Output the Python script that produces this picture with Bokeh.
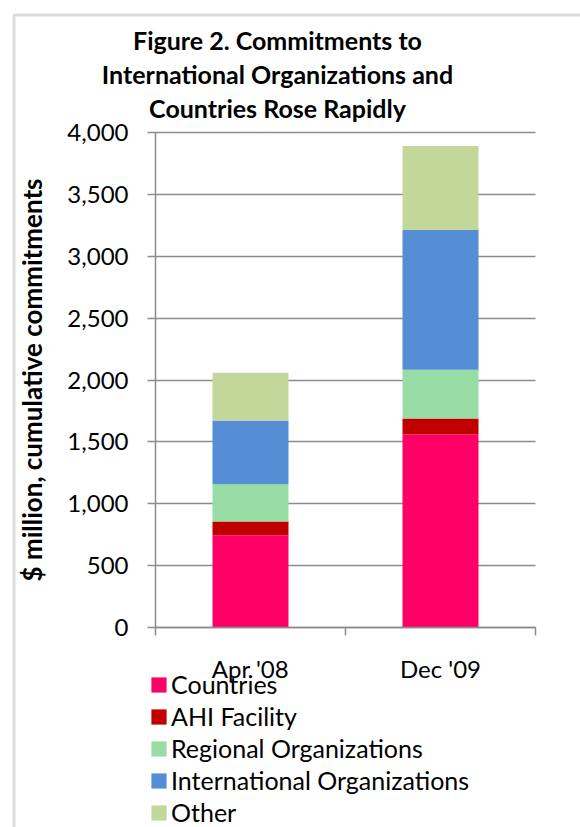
from bokeh.plotting import figure
from bokeh.models import (ColumnDataSource, FixedTicker, NumeralTickFormatter, Legend,
                          LegendItem, Label, Range1d, BoxAnnotation)
from bokeh.embed import file_html
from bokeh.resources import INLINE

# ---- data ----
categories = ["Apr '08", "Dec '09"]
series = ["Countries", "AHI Facility", "Regional Organizations", "International Organizations", "Other"]
countries = [745, 1560]
ahi_facility = [112, 128]
regional_orgs = [300, 395]
international_orgs = [515, 1130]
other = [387, 678]
y_ticks = [0, 500, 1000, 1500, 2000, 2500, 3000, 3500, 4000]

colors = ["#FF0066", "#C00000", "#99DDA6", "#558ED5", "#C4D79B"]
FONT = "Lato"
GREY = "#8c8c8c"

# ---- layout (pixels on the canvas) ----
W, H = 580, 827
AX_LEFT, AX_RIGHT, AX_TOP, AX_BOTTOM = 155, 535, 132, 627
YMAX = y_ticks[-1]
ncat = len(categories)
px_x = (AX_RIGHT - AX_LEFT) / ncat
px_y = (AX_BOTTOM - AX_TOP) / YMAX


def x_at(px):
    return (px - AX_LEFT) / px_x


def y_at(py):
    return (AX_BOTTOM - py) / px_y


xpos = [i + 0.5 for i in range(ncat)]
source = ColumnDataSource(dict(
    x=xpos,
    **{series[0]: countries, series[1]: ahi_facility, series[2]: regional_orgs,
       series[3]: international_orgs, series[4]: other}
))

p = figure(width=W, height=H, output_backend="svg", toolbar_location=None,
           x_range=Range1d(x_at(0), x_at(W)), y_range=Range1d(y_at(H), y_at(0)),
           min_border=0)
p.outline_line_color = None
p.background_fill_color = "white"
p.border_fill_color = "white"
p.xgrid.grid_line_color = None
p.ygrid.grid_line_color = None

renderers = p.vbar_stack(series, x="x", width=0.4, source=source, color=colors, line_color=None)

# y axis (its inward ticks double as the horizontal gridlines)
yax = p.yaxis[0]
yax.fixed_location = 0
yax.bounds = (0, YMAX)
yax.level = "underlay"
yax.ticker = FixedTicker(ticks=y_ticks)
yax.formatter = NumeralTickFormatter(format="0,0")
yax.axis_line_color = GREY
yax.axis_line_width = 1.5
yax.major_tick_line_color = GREY
yax.major_tick_line_width = 1.5
yax.major_tick_out = 8
yax.major_tick_in = AX_RIGHT - AX_LEFT
yax.minor_tick_line_color = None
yax.major_label_text_font = FONT
yax.major_label_text_font_size = "24px"
yax.major_label_text_color = "black"
yax.major_label_standoff = 19
yax.axis_label = "$ million, cumulative commitments"
yax.axis_label_text_font = FONT
yax.axis_label_text_font_style = "bold"
yax.axis_label_text_font_size = "26px"
yax.axis_label_text_color = "black"
yax.axis_label_standoff = 16

# x axis
xax = p.xaxis[0]
xax.fixed_location = 0
xax.bounds = (0, ncat)
xax.ticker = FixedTicker(ticks=xpos, minor_ticks=list(range(ncat + 1)))
xax.major_label_overrides = {xv: c for xv, c in zip(xpos, categories)}
xax.axis_line_color = GREY
xax.axis_line_width = 1.5
xax.major_tick_line_color = None
xax.major_tick_out = 0
xax.major_tick_in = 0
xax.minor_tick_line_color = GREY
xax.minor_tick_line_width = 1.5
xax.minor_tick_out = 8
xax.minor_tick_in = 0
xax.major_label_text_font = FONT
xax.major_label_text_font_size = "24px"
xax.major_label_text_color = "black"
xax.major_label_standoff = 18

# legend
items = [LegendItem(label=s, renderers=[r]) for s, r in zip(series, renderers)]
legend = Legend(items=items, location=(149, -1), padding=0, margin=0,
                border_line_color=None, background_fill_alpha=0,
                glyph_width=19, glyph_height=19, label_standoff=3, spacing=0,
                label_height=32, label_text_font=FONT, label_text_font_size="25px",
                label_text_color="black")
p.add_layout(legend)

# title
title = Label(x=277, y=H - 123, x_units="screen", y_units="screen",
              text="Figure 2. Commitments to\nInternational Organizations and\nCountries Rose Rapidly",
              text_font=FONT, text_font_style="bold", text_font_size="25px",
              text_align="center", text_baseline="bottom", text_color="black",
              text_line_height=1.14)
p.add_layout(title)

# chart-area border (top and left edges visible)
border = BoxAnnotation(left=x_at(13.5), right=x_at(W + 20), top=y_at(14.5), bottom=y_at(H + 20),
                       fill_color=None, line_color=GREY, line_width=3)
p.add_layout(border)

open("out.html", "w").write(file_html(p, INLINE))
